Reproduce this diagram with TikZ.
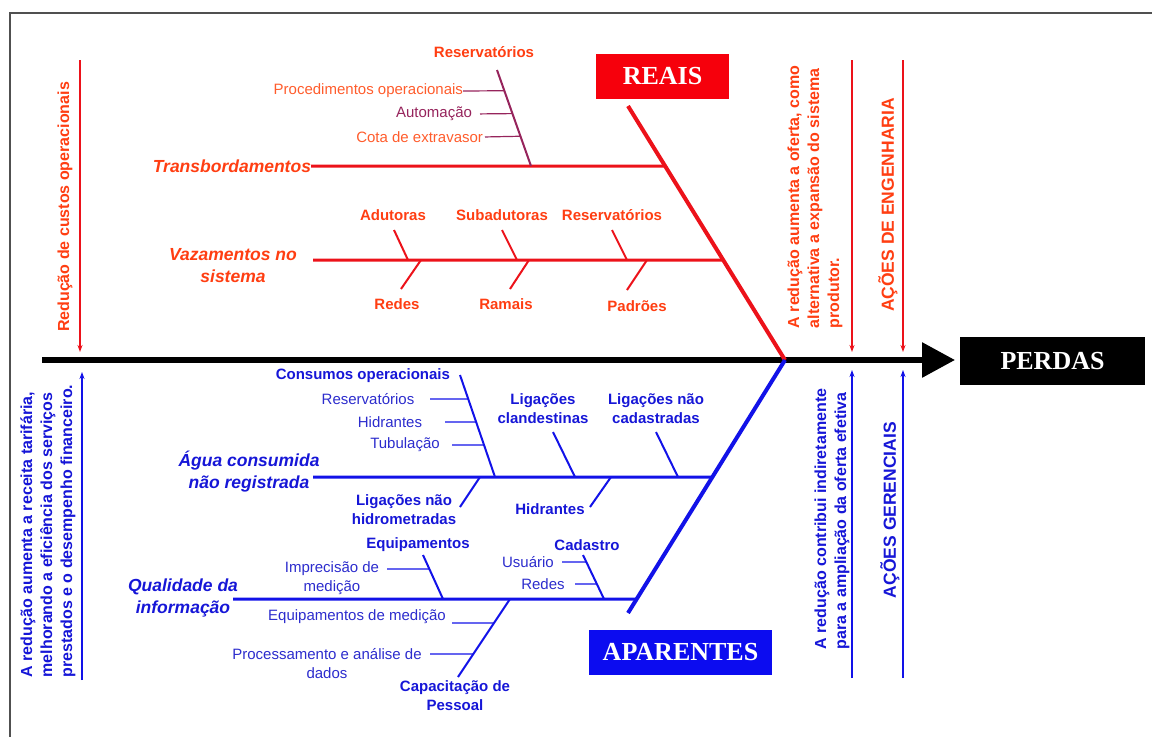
\documentclass[tikz,border=0pt]{standalone}
\usepackage{fontspec}
\setmainfont{Liberation Sans}
\newfontfamily\titlefont{Liberation Serif}
\usetikzlibrary{arrows.meta}

\definecolor{rline}{RGB}{236,18,26}
\definecolor{rtext}{RGB}{255,62,18}
\definecolor{rsoft}{RGB}{255,92,44}
\definecolor{plum}{RGB}{150,36,92}
\definecolor{rfill}{RGB}{246,0,12}
\definecolor{bline}{RGB}{18,18,232}
\definecolor{btext}{RGB}{22,22,215}
\definecolor{bsoft}{RGB}{44,44,205}
\definecolor{bfill}{RGB}{12,12,240}
\definecolor{frame}{RGB}{80,80,80}

\begin{document}
\begin{tikzpicture}[x=1pt,y=-1pt,
  every node/.style={inner sep=0pt, outer sep=0pt},
  small/.style={font=\fontsize{15}{19}\selectfont, align=center},
  smallb/.style={font=\bfseries\fontsize{15}{19}\selectfont, align=center},
  cause/.style={font=\bfseries\itshape\fontsize{17.5}{22}\selectfont, align=center},
  headbox/.style={font=\titlefont\bfseries\fontsize{26}{30}\selectfont, text=white, minimum height=45pt},
  bigbone/.style={line width=4pt},
  branch/.style={line width=3pt},
  twig/.style={line width=2pt},
  tick/.style={line width=1.2pt},
  side/.style={line width=1.3pt, -{Stealth[length=7pt,width=5pt]}},
  vtext/.style={rotate=90, font=\bfseries\fontsize{16}{20}\selectfont, align=left},
  vhead/.style={rotate=90, font=\bfseries\fontsize{17.5}{20}\selectfont},
]
\useasboundingbox (0,0) rectangle (1152,737);

% page frame
\draw[frame, line width=2pt] (1152,13) -- (10,13) -- (10,737);

% main spine and effect box
\coordinate (tail) at (42,360);
\node[headbox, fill=black, minimum width=185pt, minimum height=48pt] (perdas) at (1052.5,361) {PERDAS};
\draw[line width=6pt, -{Triangle[length=33pt,width=34pt]}, shorten >=5pt] (tail) -- (tail -| perdas.west);

% the two main bones
\coordinate (joint) at (785,360);
\coordinate (rtop) at (628,106);
\coordinate (bbot) at (628,613);
\path (rtop) -- (joint) coordinate[pos=0.2362] (trR) coordinate[pos=0.6063] (vzR);
\path (joint) -- (bbot) coordinate[pos=0.4625] (agR) coordinate[pos=0.9447] (qiR);
\draw[bigbone, rline] (rtop) -- (joint);
\draw[bigbone, bline] (joint) -- (bbot);
\node[headbox, fill=rfill, minimum width=133pt] (reais) at (662.5,76.5) {REAIS};
\node[headbox, fill=bfill, minimum width=183pt] (aparentes) at (680.5,652.5) {APARENTES};

% ---------- real losses ----------
\node[cause, text=rtext, anchor=east] (transb) at (311,166) {Transbordamentos};
\draw[branch, rline] (transb.east) -- (trR);

\coordinate (tsA) at (497,70);
\coordinate (tsB) at (531,166);
\draw[twig, plum] (tsA) -- (tsB);
\path (tsA) -- (tsB) coordinate[pos=0.216] (tk1) coordinate[pos=0.454] (tk2) coordinate[pos=0.69] (tk3);
\node[smallb, text=rtext] (resT) at (484,52) {Reservatórios};
\node[small, text=rsoft, anchor=east] (procop) at (463,91) {Procedimentos operacionais};
\node[small, text=plum, anchor=east] (autom) at (472,114) {Automação};
\node[small, text=rsoft, anchor=east] (cota) at (483,137) {Cota de extravasor};
\draw[tick, plum] (procop.east) -- (tk1);
\draw[tick, plum, shorten <=8pt] (autom.east) -- (tk2);
\draw[tick, plum, shorten <=2pt] (cota.east) -- (tk3);

\node[cause, text=rtext] (vazam) at (233,266) {Vazamentos no\\sistema};
\coordinate (vzL) at (313,260);
\draw[branch, rline] (vzL) -- (vzR);

\node[smallb, text=rtext] (adut) at (393,215) {Adutoras};
\node[smallb, text=rtext] (subad) at (502,215) {Subadutoras};
\node[smallb, text=rtext] (resV) at (612,215) {Reservatórios};
\node[smallb, text=rtext] (redesV) at (397,304) {Redes};
\node[smallb, text=rtext] (ramais) at (506,304) {Ramais};
\node[smallb, text=rtext] (padroes) at (637,306) {Padrões};

\coordinate (a1) at (394,230); \coordinate (a2) at (408,260);
\coordinate (s1) at (502,230); \coordinate (s2) at (517,260);
\coordinate (v1) at (612,230); \coordinate (v2) at (627,260);
\coordinate (d1) at (401,289); \coordinate (d2) at (421,260);
\coordinate (m1) at (510,289); \coordinate (m2) at (529,260);
\coordinate (p1) at (627,290); \coordinate (p2) at (647,260);
\draw[twig, rline] (a1) -- (a2);
\draw[twig, rline] (s1) -- (s2);
\draw[twig, rline] (v1) -- (v2);
\draw[twig, rline] (d1) -- (d2);
\draw[twig, rline] (m1) -- (m2);
\draw[twig, rline] (p1) -- (p2);

% ---------- apparent losses ----------
\node[cause, text=btext] (agua) at (249,471.5) {Água consumida\\não registrada};
\coordinate (agL) at (313,477);
\draw[branch, bline] (agL) -- (agR);

\coordinate (c1) at (460,375); \coordinate (c2) at (495,477);
\draw[twig, bline] (c1) -- (c2);
\path (c1) -- (c2) coordinate[pos=0.235] (ct1) coordinate[pos=0.461] (ct2) coordinate[pos=0.686] (ct3);
\node[smallb, text=btext, anchor=east] (consop) at (450,376) {Consumos operacionais};
\node[small, text=bsoft] (resA) at (368,399) {Reservatórios};
\node[small, text=bsoft] (hidrA) at (390,422) {Hidrantes};
\node[small, text=bsoft] (tubul) at (405,445) {Tubulação};
\coordinate (ct1s) at (430,399);
\coordinate (ct2s) at (445,422);
\coordinate (ct3s) at (452,445);
\draw[tick, bline] (ct1s) -- (ct1);
\draw[tick, bline] (ct2s) -- (ct2);
\draw[tick, bline] (ct3s) -- (ct3);

\node[smallb, text=btext] (clande) at (543,408.5) {Ligações\\clandestinas};
\node[smallb, text=btext] (cadas) at (656,408.5) {Ligações não\\cadastradas};
\coordinate (l1) at (553,432); \coordinate (l2) at (575,477);
\coordinate (n1) at (656,432); \coordinate (n2) at (678,477);
\draw[twig, bline] (l1) -- (l2);
\draw[twig, bline] (n1) -- (n2);

\node[smallb, text=btext] (hidrom) at (404,509.5) {Ligações não\\hidrometradas};
\node[smallb, text=btext] (hidrB) at (550,509) {Hidrantes};
\coordinate (h1) at (460,507); \coordinate (h2) at (480,477);
\coordinate (k1) at (590,507); \coordinate (k2) at (611,477);
\draw[twig, bline] (h1) -- (h2);
\draw[twig, bline] (k1) -- (k2);

\node[cause, text=btext] (qualid) at (183,597.5) {Qualidade da\\informação};
\coordinate (qiL) at (233,599);
\draw[branch, bline] (qiL) -- (qiR);

\node[smallb, text=btext] (equip) at (418,545) {Equipamentos};
\node[small, text=bsoft] (imprec) at (332,578.5) {Imprecisão de\\medição};
\coordinate (e1) at (423,555); \coordinate (e2) at (443,599);
\draw[twig, bline] (e1) -- (e2);
\path (e1) -- (e2) coordinate[pos=0.318] (et1);
\coordinate (et1s) at (387,569);
\draw[tick, bline] (et1s) -- (et1);

\node[smallb, text=btext] (cadastro) at (587,545) {Cadastro};
\node[small, text=bsoft] (usuario) at (528,562) {Usuário};
\node[small, text=bsoft] (redesB) at (543,584) {Redes};
\coordinate (g1) at (583,555); \coordinate (g2) at (604,599);
\draw[twig, bline] (g1) -- (g2);
\path (g1) -- (g2) coordinate[pos=0.159] (gt1) coordinate[pos=0.659] (gt2);
\coordinate (gt1s) at (562,562);
\coordinate (gt2s) at (575,584);
\draw[tick, bline] (gt1s) -- (gt1);
\draw[tick, bline] (gt2s) -- (gt2);

\node[smallb, text=btext] (capac) at (455,696) {Capacitação de\\Pessoal};
\node[small, text=bsoft] (eqmed) at (357,617) {Equipamentos de medição};
\node[small, text=bsoft] (proces) at (327,663.5) {Processamento e análise de\\dados};
\coordinate (q1) at (458,677); \coordinate (q2) at (510,599);
\draw[twig, bline] (q1) -- (q2);
\path (q2) -- (q1) coordinate[pos=0.308] (qt1) coordinate[pos=0.705] (qt2);
\coordinate (qt1s) at (452,623);
\coordinate (qt2s) at (430,654);
\draw[tick, bline] (qt1s) -- (qt1);
\draw[tick, bline] (qt2s) -- (qt2);

% ---------- side notes ----------
\node[vtext, text=rtext] (custos) at (65,207) {Redução de custos operacionais};
\node[vtext, text=rtext] (oferta) at (815,197) {A redução aumenta a oferta, como\\alternativa a expansão do sistema\\produtor.};
\node[vhead, text=rtext] (engen) at (888,205) {AÇÕES DE ENGENHARIA};
\node[vtext, text=btext] (receita) at (48,531) {A redução aumenta a receita tarifária,\\melhorando a eficiência dos serviços\\prestados e o desempenho financeiro.};
\node[vtext, text=btext] (indireta) at (832,519) {A redução contribui indiretamente\\para a ampliação da oferta efetiva};
\node[vhead, text=btext] (gerenc) at (890,510) {AÇÕES GERENCIAIS};

\coordinate (ra1) at (80,60);  \coordinate (ra2) at (80,352);
\coordinate (rb1) at (852,60); \coordinate (rb2) at (852,352);
\coordinate (rc1) at (903,60); \coordinate (rc2) at (903,352);
\coordinate (ba1) at (82,680);  \coordinate (ba2) at (82,372);
\coordinate (bb1) at (852,678); \coordinate (bb2) at (852,370);
\coordinate (bc1) at (903,678); \coordinate (bc2) at (903,370);
\draw[side, rline] (ra1) -- (ra2);
\draw[side, rline] (rb1) -- (rb2);
\draw[side, rline] (rc1) -- (rc2);
\draw[side, bline] (ba1) -- (ba2);
\draw[side, bline] (bb1) -- (bb2);
\draw[side, bline] (bc1) -- (bc2);
\end{tikzpicture}
\end{document}
